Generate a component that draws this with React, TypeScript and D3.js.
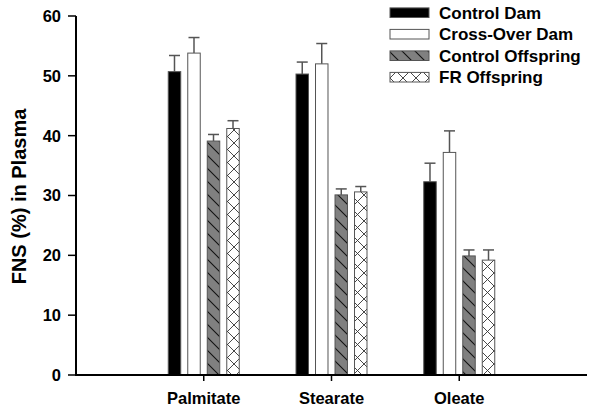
import React from "react";
import * as d3 from "d3";

const categories = ["Palmitate", "Stearate", "Oleate"];
const seriesNames = ["Control Dam", "Cross-Over Dam", "Control Offspring", "FR Offspring"];
const controlDam = [50.7, 50.3, 32.3];
const controlDamErr = [2.7, 2.0, 3.1];
const crossOverDam = [53.8, 52.0, 37.2];
const crossOverDamErr = [2.6, 3.4, 3.6];
const controlOffspring = [39.1, 30.1, 19.9];
const controlOffspringErr = [1.1, 1.0, 1.0];
const frOffspring = [41.2, 30.6, 19.2];
const frOffspringErr = [1.3, 0.9, 1.7];
const yTicks = [0, 10, 20, 30, 40, 50, 60];

const seriesValues = [controlDam, crossOverDam, controlOffspring, frOffspring];
const seriesErrs = [controlDamErr, crossOverDamErr, controlOffspringErr, frOffspringErr];
const fills = ["#000000", "#ffffff", "url(#hatchDiag)", "url(#hatchCross)"];

const FONT = "'Liberation Sans', Arial, Helvetica, sans-serif";

export default function App() {
  const W = 600;
  const H = 410;
  const x = d3.scaleLinear().domain([0, 4]).range([76, 587]);
  const inner = d3.scaleBand<string>().domain(seriesNames).range([-35.5, 35.5]).paddingInner(0.36);
  const y = d3.scaleLinear().domain([0, 60]).range([375, 16]);
  const bw = inner.bandwidth();

  return (
    <svg width={W} height={H} style={{ position: "absolute", left: 0, top: 0, background: "#fff" }} fontFamily={FONT}>
      <defs>
        <pattern id="hatchDiag" patternUnits="userSpaceOnUse" width={13} height={13}>
          <rect width={13} height={13} fill="#808080" />
          <path d="M-2,-2 L15,15 M-2,11 L2,15 M11,-2 L15,2" stroke="#111" strokeWidth={1.1} />
        </pattern>
        <pattern id="hatchCross" patternUnits="userSpaceOnUse" width={13} height={13}>
          <rect width={13} height={13} fill="#ffffff" />
          <path d="M0,0 L13,13 M13,0 L0,13" stroke="#333" strokeWidth={0.9} />
        </pattern>
      </defs>

      {/* bars */}
      {categories.map((c, ci) => (
        <g key={c}>
          {seriesNames.map((s, si) => {
            const v = seriesValues[si][ci];
            const e = seriesErrs[si][ci];
            const cx = x(ci + 1) + (inner(s) as number);
            const mid = cx + bw / 2;
            return (
              <g key={s}>
                <line x1={mid} x2={mid} y1={y(v)} y2={y(v + e)} stroke="#555" strokeWidth={1.5} />
                <line x1={mid - 5.5} x2={mid + 5.5} y1={y(v + e)} y2={y(v + e)} stroke="#555" strokeWidth={1.5} />
                <rect x={cx} y={y(v)} width={bw} height={y(0) - y(v)} fill={fills[si]} stroke="#555" strokeWidth={1} />
              </g>
            );
          })}
        </g>
      ))}

      {/* y axis */}
      <line x1={76} x2={76} y1={y(60)} y2={y(0)} stroke="#000" strokeWidth={2} />
      {yTicks.map((t) => (
        <g key={t}>
          <line x1={68} x2={76} y1={y(t)} y2={y(t)} stroke="#000" strokeWidth={1.5} />
          <text x={61} y={y(t)} dy="0.36em" textAnchor="end" fontSize={16.5} fontWeight="bold">
            {t}
          </text>
        </g>
      ))}
      <text
        transform={`translate(25.5,196.5) rotate(-90)`}
        textAnchor="middle"
        fontSize={20}
        fontWeight="bold"
      >
        FNS (%) in Plasma
      </text>

      {/* x axis */}
      <line x1={75} x2={587} y1={y(0)} y2={y(0)} stroke="#000" strokeWidth={2} />
      {categories.map((c, ci) => (
        <g key={c}>
          <line x1={x(ci + 1)} x2={x(ci + 1)} y1={y(0)} y2={y(0) + 6} stroke="#000" strokeWidth={1.5} />
          <text x={x(ci + 1)} y={404} textAnchor="middle" fontSize={16.5} fontWeight="bold">
            {c}
          </text>
        </g>
      ))}

      {/* legend */}
      {seriesNames.map((s, si) => {
        const cy = 12.7 + si * 21.5;
        return (
          <g key={s}>
            <rect x={390} y={cy - 4.8} width={39} height={9.6} fill={fills[si]} stroke="#555" strokeWidth={1} />
            <text x={439} y={cy} dy="0.36em" fontSize={17} fontWeight="bold">
              {s}
            </text>
          </g>
        );
      })}
    </svg>
  );
}
